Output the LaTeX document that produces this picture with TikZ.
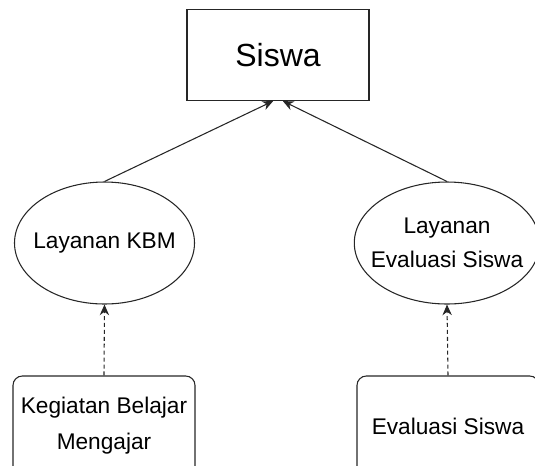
\documentclass[tikz,border=0pt]{standalone}
\usepackage{fontspec}
\setmainfont{Liberation Sans}
\usepackage{tikz}
\usetikzlibrary{arrows.meta,shapes.geometric}
\tikzset{
  topbox/.style   = {draw=black!85, line width=0.8pt, minimum width=136.5pt,
                     minimum height=68.25pt, font=\fontsize{24}{28}\selectfont},
  oval/.style     = {ellipse, draw=black!85, line width=0.8pt, minimum width=135pt,
                     minimum height=91.5pt, align=center, inner xsep=-8pt, inner ysep=0pt,
                     font=\fontsize{17}{25.5}\selectfont},
  actbox/.style   = {draw=black!85, line width=0.8pt, rounded corners=7pt,
                     minimum width=136.5pt, minimum height=75pt, align=center,
                     font=\fontsize{17}{27}\selectfont},
  solidar/.style  = {-{Stealth[length=8pt,width=7pt]}, black!85, line width=0.8pt},
  dashar/.style   = {-{Stealth[length=8pt,width=7pt]}, black!85, line width=0.8pt,
                     dash pattern=on 3pt off 2.2pt}
}
\begin{document}
\begin{tikzpicture}[x=0.75pt,y=-0.75pt]
  \useasboundingbox (0,0) rectangle (535,465);
  \node[topbox] (siswa) at (278,55)  {Siswa};
  \node[oval]   (kbm)   at (104.5,243) {Layanan KBM};
  \node[oval]   (eval)  at (447,243) {Layanan\\Evaluasi Siswa};
  \node[actbox] (kbel)  at (104,426) {Kegiatan Belajar\\Mengajar};
  \node[actbox] (esis)  at (448,426) {Evaluasi Siswa};
  \draw[solidar] (kbm.north)  -- (siswa.264);
  \draw[solidar] (eval.north) -- (siswa.276);
  \draw[dashar]  (kbel.north) -- (kbm.south);
  \draw[dashar]  (esis.north) -- (eval.south);
\end{tikzpicture}
\end{document}
